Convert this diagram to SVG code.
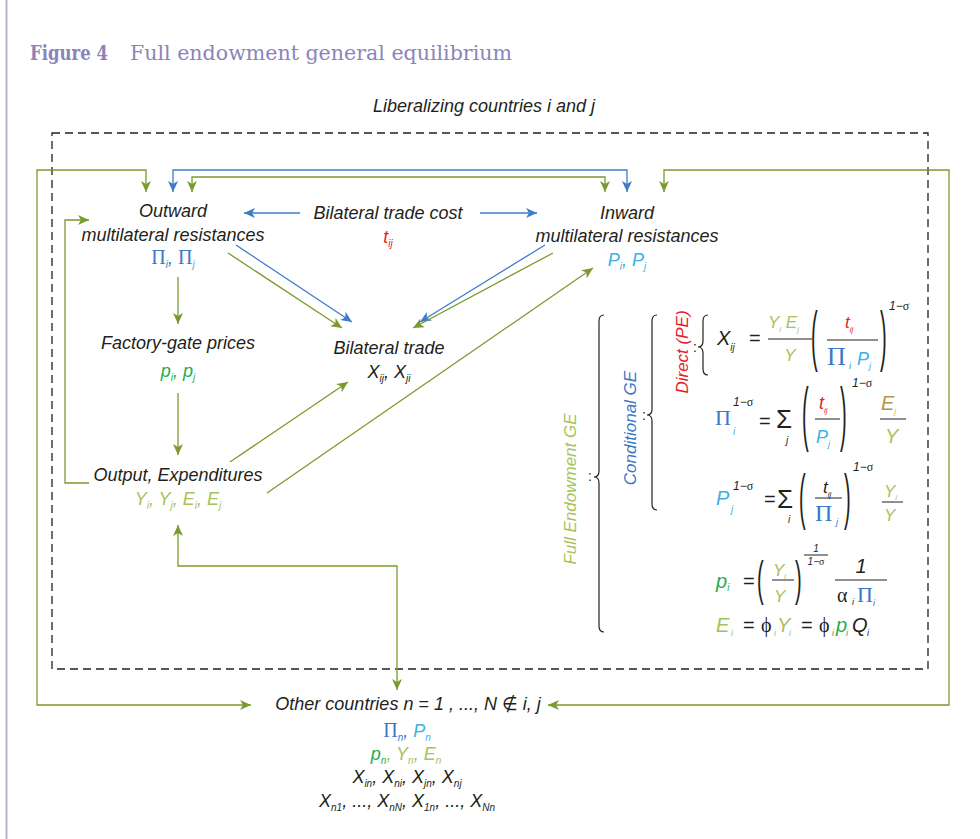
<svg xmlns="http://www.w3.org/2000/svg" width="980" height="839" viewBox="0 0 980 839">
<style>
svg{font-size:18px}
.t{font-family:"Liberation Sans",Arial,"DejaVu Sans",sans-serif;font-style:italic;fill:#231f20}
.m{text-anchor:middle}
.s{font-family:"Liberation Serif","DejaVu Serif",serif;font-style:normal}
.n{font-style:normal}
.par{font-family:"Liberation Sans",Arial,sans-serif;fill:#231f20}
.cb{fill:#3b78c6}.clb{fill:#3cb0e6}.cr{fill:#e8202a}.cg{fill:#1fae4e}.co{fill:#a8c25a}.cgold{fill:#b0984a}.ck{fill:#231f20}
.lg{fill:none;stroke:#7b9a2e;stroke-width:1.3}
.lb{fill:none;stroke:#3d7cc9;stroke-width:1.3}
.fl{stroke:#231f20;stroke-width:1;fill:none}
.br{fill:none;stroke:#231f20;stroke-width:1.2}
.title{font-family:"DejaVu Serif","Liberation Serif",serif;fill:#8a84ba}
</style>
<defs>
<marker id="ag" viewBox="0 0 11 10" refX="11" refY="5" markerWidth="11" markerHeight="10" markerUnits="userSpaceOnUse" orient="auto-start-reverse"><path d="M0,0 L11,5 L0,10 L3,5 z" fill="#7b9a2e"/></marker>
<marker id="ab" viewBox="0 0 11 10" refX="11" refY="5" markerWidth="11" markerHeight="10" markerUnits="userSpaceOnUse" orient="auto-start-reverse"><path d="M0,0 L11,5 L0,10 L3,5 z" fill="#3d7cc9"/></marker>
</defs>
<rect x="0" y="0" width="980" height="839" fill="#ffffff"/>
<rect x="5.5" y="0" width="2" height="839" fill="#b4b0d8"/>
<g id="title">
<text class="title" x="30" y="60" font-size="20" font-weight="bold" textLength="78" lengthAdjust="spacingAndGlyphs">Figure 4</text>
<text class="title" x="130" y="60" font-size="20" textLength="382" lengthAdjust="spacingAndGlyphs">Full endowment general equilibrium</text>
</g>
<g id="liberalizing-box">
<text class="t m" x="484" y="112">Liberalizing countries i and j</text>
<rect x="52" y="133" width="876" height="536" fill="none" stroke="#231f20" stroke-width="1.3" stroke-dasharray="8,5"/>
</g>
<g id="connectors">
<path class="lb" d="M173,192 V170 H627 V192" marker-start="url(#ab)" marker-end="url(#ab)"/>
<path class="lg" d="M192,192 V177 H605 V192" marker-start="url(#ag)" marker-end="url(#ag)"/>
<path class="lg" d="M146,192 V170 H37 V705 H251" marker-start="url(#ag)" marker-end="url(#ag)"/>
<path class="lg" d="M664,192 V170 H949 V705 H548" marker-start="url(#ag)" marker-end="url(#ag)"/>
<path class="lg" d="M89,483 H65 V220 H89" marker-end="url(#ag)"/>
<path class="lb" d="M300,213 H244" marker-end="url(#ab)"/>
<path class="lb" d="M480,213 H537" marker-end="url(#ab)"/>
<path class="lb" d="M236,245 L352,322" marker-end="url(#ab)"/>
<path class="lg" d="M228,253 L342,328" marker-end="url(#ag)"/>
<path class="lb" d="M545,245 L420,322" marker-end="url(#ab)"/>
<path class="lg" d="M553,253 L413,328" marker-end="url(#ag)"/>
<path class="lg" d="M230,462 L348,382" marker-end="url(#ag)"/>
<path class="lg" d="M267,493 L593,268" marker-end="url(#ag)"/>
<path class="lg" d="M178,277 V324" marker-end="url(#ag)"/>
<path class="lg" d="M178,393 V455" marker-end="url(#ag)"/>
<path class="lg" d="M178,525 V566 H397 V690" marker-start="url(#ag)" marker-end="url(#ag)"/>
</g>
<g id="outward">
<text class="t m" x="173" y="217">Outward</text>
<text class="t m" x="173" y="241">multilateral resistances</text>
<text class="t m cb" x="173" y="264"><tspan class="s" font-size="20">Π</tspan><tspan font-size="10" dy="4">i</tspan><tspan dy="-4">, </tspan><tspan class="s" font-size="20">Π</tspan><tspan class="clb" font-size="10" dy="4">j</tspan></text>
</g>
<g id="trade-cost">
<text class="t m" x="388" y="219">Bilateral trade cost</text>
<text class="t m cr" x="388" y="243">t<tspan font-size="10" dy="4">ij</tspan></text>
</g>
<g id="inward">
<text class="t m" x="627" y="219">Inward</text>
<text class="t m" x="627" y="242">multilateral resistances</text>
<text class="t m clb" x="627" y="266">P<tspan font-size="10" dy="4">i</tspan><tspan dy="-4">, P</tspan><tspan font-size="10" dy="4">j</tspan></text>
</g>
<g id="factory">
<text class="t m" x="178" y="349">Factory-gate prices</text>
<text class="t m cg" x="178" y="377">p<tspan font-size="10" dy="4">i</tspan><tspan dy="-4">, p</tspan><tspan font-size="10" dy="4">j</tspan></text>
</g>
<g id="bilateral">
<text class="t m" x="389" y="354">Bilateral trade</text>
<text class="t m" x="389" y="378">X<tspan font-size="10" dy="4">ij</tspan><tspan dy="-4">, X</tspan><tspan font-size="10" dy="4">ji</tspan></text>
</g>
<g id="output">
<text class="t m" x="178" y="481">Output, Expenditures</text>
<text class="t m co" x="178" y="505">Y<tspan font-size="10" dy="4">i</tspan><tspan dy="-4">, Y</tspan><tspan font-size="10" dy="4">j</tspan><tspan dy="-4">, E</tspan><tspan font-size="10" dy="4">i</tspan><tspan dy="-4">, E</tspan><tspan font-size="10" dy="4">j</tspan></text>
</g>
<g id="other">
<text class="t m" x="408" y="710">Other countries n <tspan class="n">=</tspan> 1 , ..., N <tspan class="n">∉</tspan> i, j</text>
<text class="t m" x="407" y="737"><tspan class="s cb" font-size="20">Π</tspan><tspan class="cb" font-size="10" dy="4">n</tspan><tspan dy="-4" class="cb">, </tspan><tspan class="clb">P</tspan><tspan class="clb" font-size="10" dy="4">n</tspan></text>
<text class="t m" x="406" y="760"><tspan class="cg">p</tspan><tspan class="cg" font-size="10" dy="4">n</tspan><tspan dy="-4" class="co">, Y</tspan><tspan class="co" font-size="10" dy="4">n</tspan><tspan dy="-4" class="co">, E</tspan><tspan class="co" font-size="10" dy="4">n</tspan></text>
<text class="t m" x="407" y="783">X<tspan font-size="10" dy="4">in</tspan><tspan dy="-4">, X</tspan><tspan font-size="10" dy="4">ni</tspan><tspan dy="-4">, X</tspan><tspan font-size="10" dy="4">jn</tspan><tspan dy="-4">, X</tspan><tspan font-size="10" dy="4">nj</tspan></text>
<text class="t m" x="407" y="807">X<tspan font-size="10" dy="4">n1</tspan><tspan dy="-4">, ..., X</tspan><tspan font-size="10" dy="4">nN</tspan><tspan dy="-4">, X</tspan><tspan font-size="10" dy="4">1n</tspan><tspan dy="-4">, ..., X</tspan><tspan font-size="10" dy="4">Nn</tspan></text>
</g>
<g id="equations">
<path class="br" d="M604,315 Q599,315 599,321 L599,471 Q599,477 594,477 Q599,477 599,483 L599,626 Q599,632 604,632"/>
<text class="t n" x="588" y="481" font-size="14">:</text>
<text class="t co" font-size="17" text-anchor="middle" transform="translate(576,489) rotate(-90)">Full Endowment GE</text>
<path class="br" d="M657,315 Q652,315 652,321 L652,409 Q652,415 647,415 Q652,415 652,421 L652,504 Q652,510 657,510"/>
<text class="t n" x="642" y="420" font-size="14">:</text>
<text class="t cb" font-size="17" text-anchor="middle" transform="translate(636,428) rotate(-90)">Conditional GE</text>
<path class="br" d="M708,315 Q703,315 703,321 L703,341 Q703,347 698,347 Q703,347 703,353 L703,369 Q703,375 708,375"/>
<text class="t n" x="693" y="352" font-size="14">:</text>
<text class="t cr" font-size="17" text-anchor="middle" transform="translate(688,352) rotate(-90)">Direct (PE)</text>
<!-- eq1 -->
<text class="t" x="717" y="345" font-size="20">X<tspan font-size="10" dy="6">ij</tspan></text>
<text class="t n" x="749" y="345" font-size="20">=</text>
<text class="t co" x="768" y="328" font-size="17">Y<tspan font-size="8" dy="4">i</tspan><tspan dy="-4"> E</tspan><tspan font-size="8" dy="4">j</tspan></text>
<line class="fl" x1="768" y1="339" x2="812" y2="339"/>
<text class="t co m" x="790" y="361" font-size="17">Y</text>
<text class="par" font-size="20" transform="translate(811,358) scale(1,3.3)">(</text>
<text class="t cr" x="845" y="328" font-size="17">t<tspan font-size="8" dy="4">ij</tspan></text>
<line class="fl" x1="827" y1="340" x2="878" y2="340"/>
<text class="t s cb" x="827" y="365" font-size="26">Π</text>
<text class="t cb" x="849" y="369" font-size="9">i</text>
<text class="t clb" x="857" y="365" font-size="18">P<tspan font-size="9" dy="4">j</tspan></text>
<text class="par" font-size="20" transform="translate(880,358) scale(1,3.3)">)</text>
<text class="t" x="889" y="310" font-size="12">1−<tspan class="s">σ</tspan></text>
<!-- eq2 -->
<text class="t s cb" x="715" y="425" font-size="22">Π</text>
<text class="t clb" x="733" y="435" font-size="10">i</text>
<text class="t" x="733" y="406" font-size="12">1−<tspan class="s">σ</tspan></text>
<text class="t n" x="759" y="428" font-size="20">=</text>
<text class="t n" x="776" y="428" font-size="26">Σ</text>
<text class="t" x="786" y="444" font-size="10">j</text>
<text class="par" font-size="20" transform="translate(802,437) scale(1,3.56)">(</text>
<text class="t cr" x="819" y="409" font-size="18">t<tspan font-size="8" dy="4">ij</tspan></text>
<line class="fl" x1="815" y1="419" x2="840" y2="419"/>
<text class="t clb" x="816" y="443" font-size="18">P<tspan font-size="9" dy="4">j</tspan></text>
<text class="par" font-size="20" transform="translate(840,437) scale(1,3.56)">)</text>
<text class="t" x="852" y="387" font-size="12">1−<tspan class="s">σ</tspan></text>
<text class="t cgold" x="881" y="410" font-size="20">E<tspan class="co" font-size="8" dy="4">j</tspan></text>
<line class="fl" x1="880" y1="419" x2="906" y2="419"/>
<text class="t co" x="885" y="443" font-size="20">Y</text>
<!-- eq3 -->
<text class="t clb" x="716" y="505" font-size="20">P</text>
<text class="t clb" x="731" y="513" font-size="10">j</text>
<text class="t" x="733" y="490" font-size="12">1−<tspan class="s">σ</tspan></text>
<text class="t n" x="764" y="506" font-size="20">=</text>
<text class="t n" x="777" y="508" font-size="26">Σ</text>
<text class="t" x="788" y="523" font-size="10">i</text>
<text class="par" font-size="20" transform="translate(799,517) scale(1,3.03)">(</text>
<text class="t" x="823" y="493" font-size="17">t<tspan font-size="8" dy="4">ij</tspan></text>
<line class="fl" x1="815" y1="498" x2="842" y2="498"/>
<text class="t s cb" x="815" y="521" font-size="24">Π</text>
<text class="t cb" x="836" y="525" font-size="9">j</text>
<text class="par" font-size="20" transform="translate(844,517) scale(1,3.03)">)</text>
<text class="t" x="853" y="471" font-size="12">1−<tspan class="s">σ</tspan></text>
<text class="t co" x="884" y="497" font-size="17">Y<tspan font-size="8" dy="3">i</tspan></text>
<line class="fl" x1="882" y1="502" x2="903" y2="502"/>
<text class="t co" x="884" y="521" font-size="17">Y</text>
<!-- eq4 -->
<text class="t cg" x="716" y="588" font-size="20">p<tspan font-size="10" dy="3">i</tspan></text>
<text class="t n" x="743" y="588" font-size="20">=</text>
<text class="par" font-size="20" transform="translate(757,595) scale(1,2.4)">(</text>
<text class="t co" x="773" y="576" font-size="17">Y<tspan font-size="8" dy="3">i</tspan></text>
<line class="fl" x1="772" y1="580" x2="794" y2="580"/>
<text class="t co" x="774" y="602" font-size="17">Y</text>
<text class="par" font-size="20" transform="translate(795,595) scale(1,2.4)">)</text>
<text class="t m" x="816" y="552" font-size="10">1</text>
<line class="fl" x1="804" y1="555" x2="828" y2="555" stroke-width="0.8"/>
<text class="t m" x="816" y="565" font-size="10">1−<tspan class="s">σ</tspan></text>
<text class="t m" x="861" y="573" font-size="20">1</text>
<line class="fl" x1="835" y1="580" x2="887" y2="580"/>
<text class="t s ck" x="837" y="602" font-size="20">α</text>
<text class="t" x="852" y="605" font-size="9">i</text>
<text class="t s cb" x="857" y="602" font-size="22">Π</text>
<text class="t cb" x="873" y="606" font-size="9">i</text>
<!-- eq5 -->
<text class="t co" x="716" y="632" font-size="20">E</text>
<text class="t co" x="731" y="636" font-size="9">i</text>
<text class="t n" x="743" y="632" font-size="20">=</text>
<text class="t s ck" x="761" y="632" font-size="20">ϕ</text>
<text class="t co" x="774" y="636" font-size="9">i</text>
<text class="t co" x="777" y="632" font-size="20">Y</text>
<text class="t co" x="789" y="636" font-size="9">i</text>
<text class="t n" x="801" y="632" font-size="20">=</text>
<text class="t s ck" x="819" y="632" font-size="20">ϕ</text>
<text class="t cg" x="832" y="636" font-size="9">i</text>
<text class="t cg" x="836" y="632" font-size="20">p</text>
<text class="t cg" x="846" y="636" font-size="9">i</text>
<text class="t" x="852" y="632" font-size="20">Q</text>
<text class="t" x="867" y="636" font-size="9">i</text>
</g>
</svg>
